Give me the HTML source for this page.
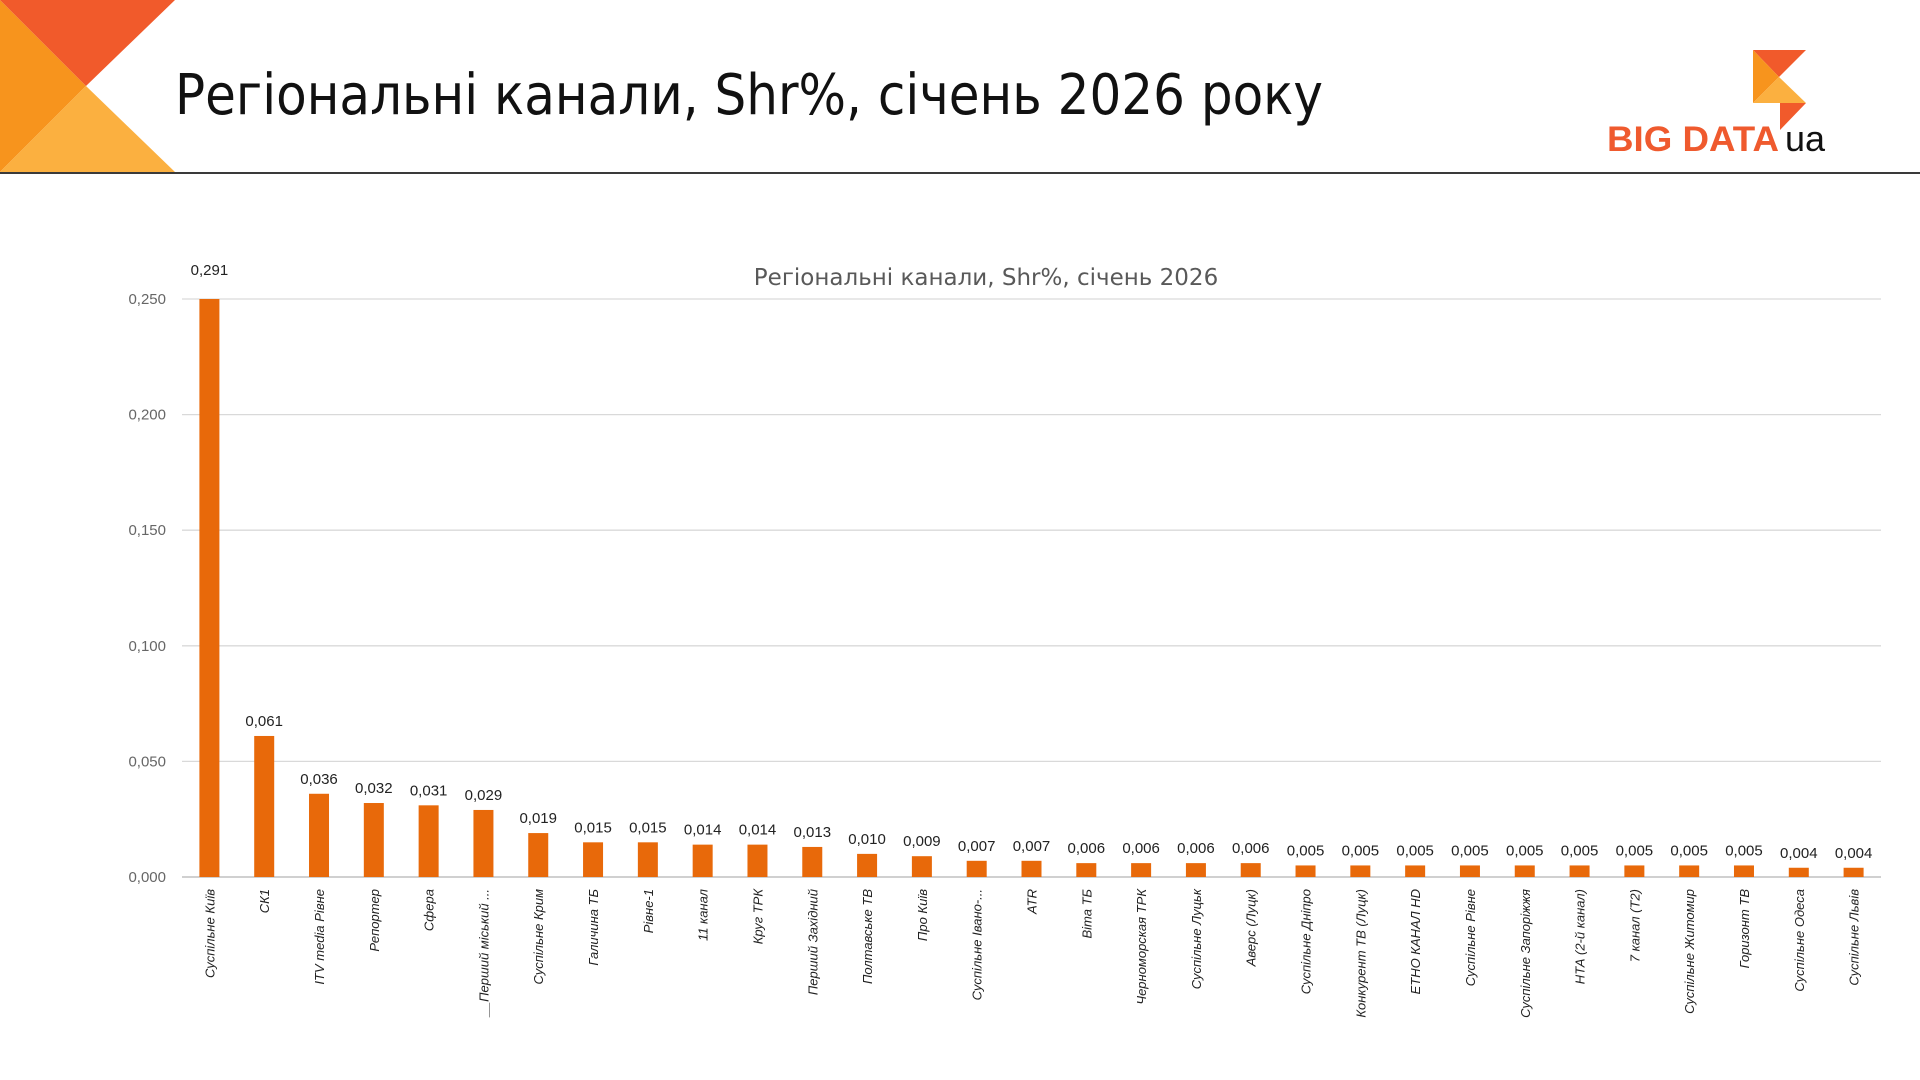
<!DOCTYPE html>
<html><head><meta charset="utf-8"><style>
html,body{margin:0;padding:0;background:#fff;}
body{width:1920px;height:1080px;overflow:hidden;position:relative;font-family:"Liberation Sans","Noto Sans CJK SC",sans-serif;}
</style></head><body>
<svg width="1920" height="1080" style="position:absolute;left:0;top:0">
  <g>
    <polygon points="0,0 86,86 0,172" fill="#F7941D"/>
    <polygon points="0,0 175,0 86,86" fill="#F15A2B"/>
    <polygon points="0,172 175,172 86,86" fill="#FBB040"/>
  </g>
  <line x1="0" y1="173" x2="1920" y2="173" stroke="#3a3a3a" stroke-width="2"/>
  <text x="175" y="114" font-size="56" fill="#111" font-family="'DejaVu Sans','Liberation Sans',sans-serif" textLength="1148" lengthAdjust="spacingAndGlyphs">Регіональні канали, Shr%, січень 2026 року</text>
  <g>
    <polygon points="1753,50 1806,50 1779,77" fill="#F15A2B"/>
    <polygon points="1753,50 1779,77 1753,103" fill="#F7941D"/>
    <polygon points="1753,103 1779,77 1806,103" fill="#FBB040"/>
    <polygon points="1780,103 1806,103 1780,130" fill="#F15A2B"/>
    <text x="1607" y="151" font-size="35" font-weight="bold" fill="#EF5A2E" textLength="172" lengthAdjust="spacingAndGlyphs">BIG DATA</text>
    <text x="1785" y="151" font-size="36" fill="#111">ua</text>
  </g>
  <text x="986" y="285" font-size="23" fill="#595959" text-anchor="middle" font-family="'DejaVu Sans','Liberation Sans',sans-serif">Регіональні канали, Shr%, січень 2026</text>
  <g id="grid"></g>
  <g id="bars"></g>
  <g id="labels"></g>
</svg>
<script>
const categories=["Суспільне Київ","СК1","ITV media Рівне","Репортер","Сфера","__Перший міський ...","Суспільне Крим","Галичина ТБ","Рівне-1","11 канал","Круг ТРК","Перший Західний","Полтавське ТВ","Про Київ","Суспільне Івано-...","ATR","Віта ТБ","Черноморская ТРК","Суспільне Луцьк","Аверс (Луцк)","Суспільне Дніпро","Конкурент ТВ (Луцк)","ЕТНО КАНАЛ HD","Суспільне Рівне","Суспільне Запоріжжя","НТА (2-й канал)","7 канал (Т2)","Суспільне Житомир","Горизонт ТВ","Суспільне Одеса","Суспільне Львів"];
const values=[0.291,0.061,0.036,0.032,0.031,0.029,0.019,0.015,0.015,0.014,0.014,0.013,0.010,0.009,0.007,0.007,0.006,0.006,0.006,0.006,0.005,0.005,0.005,0.005,0.005,0.005,0.005,0.005,0.005,0.004,0.004];
const ticks=[0,0.05,0.1,0.15,0.2,0.25];
const yMax=0.25;
const X0=182,X1=1881,Y0=877,Y1=299;
const NS="http://www.w3.org/2000/svg";
const band=(X1-X0)/categories.length;
const xc=i=>X0+band*(i+0.5);
const y=v=>Y0-(Math.min(v,yMax)/yMax)*(Y0-Y1);
const fmt=v=>v.toFixed(3).replace('.',',');
function mk(tag,attrs,parent){const e=document.createElementNS(NS,tag);for(const k in attrs)e.setAttribute(k,attrs[k]);parent.appendChild(e);return e;}
const grid=document.getElementById('grid'),bars=document.getElementById('bars'),labels=document.getElementById('labels');
ticks.forEach(t=>{
  const l=mk('line',{x1:X0,x2:X1,y1:y(t),y2:y(t),stroke:t===0?'#d0d0d0':'#d9d9d9','stroke-width':t===0?2:1.3},grid);
  
  
  const tx=mk('text',{x:166,y:y(t)+5,'font-size':15,fill:'#666','text-anchor':'end'},grid);
  tx.textContent=fmt(t);
  
  
});
values.forEach((v,i)=>{
  const r=mk('rect',{x:xc(i)-10,y:y(v),width:20,height:Y0-y(v),fill:'#E8690A'},bars);
  
  
  const off=v>yMax?24:10;
  const dl=mk('text',{x:xc(i),y:y(v)-off,'font-size':15,fill:'#222','text-anchor':'middle'},labels);
  dl.textContent=fmt(v);
  
  
  const cl=mk('text',{x:0,y:0,'font-size':13,fill:'#222','text-anchor':'end','font-style':'italic',transform:`translate(${xc(i)+5},${Y0+12}) rotate(-90)`},labels);
  cl.textContent=categories[i];
  
  
});
</script>
</body></html>
